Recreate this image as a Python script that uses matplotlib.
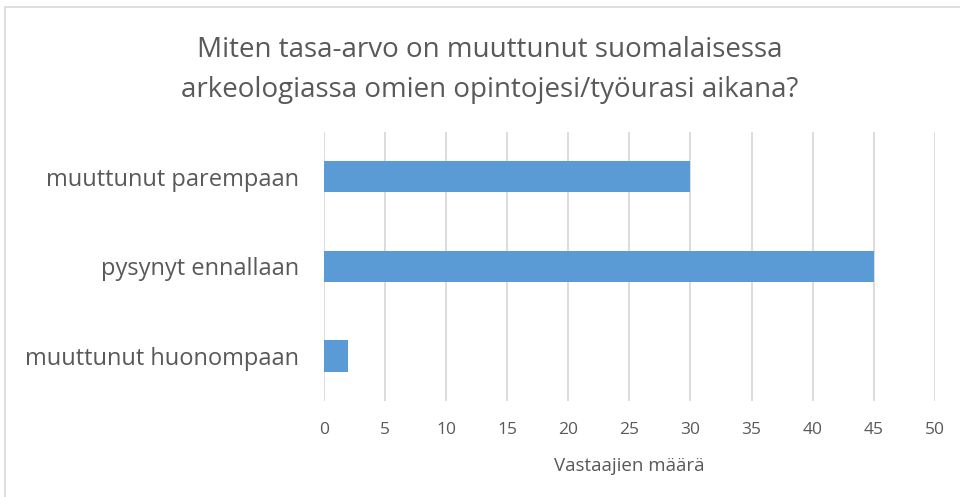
import matplotlib.pyplot as plt
from matplotlib.patches import Rectangle

# data
categories = ["muuttunut huonompaan", "pysynyt ennallaan", "muuttunut parempaan"]
values = [2, 45, 30]
x_ticks = [0, 5, 10, 15, 20, 25, 30, 35, 40, 45, 50]

title = "Miten tasa-arvo on muuttunut suomalaisessa\narkeologiassa omien opintojesi/työurasi aikana?"
x_label = "Vastaajien määrä"

bar_color = "#5B9BD5"
text_color = "#595959"
grid_color = "#D9D9D9"

plt.rcParams["font.family"] = ["Open Sans", "DejaVu Sans"]

fig = plt.figure(figsize=(9.6, 4.97), dpi=100)
ax = fig.add_axes([323.7 / 960, 1 - 400.7 / 497, (935 - 323.7) / 960, (400.7 - 131.7) / 497])

ax.barh(categories, values, height=0.35, color=bar_color, zorder=3)

ax.set_xlim(0, 50)
ax.set_ylim(-0.5, 2.5)
ax.set_xticks(x_ticks)
ax.tick_params(axis="x", length=0, colors=text_color, labelsize=12.5, pad=15)
ax.tick_params(axis="y", length=0, colors=text_color, labelsize=17, pad=18)
ax.grid(axis="x", color=grid_color, linewidth=1.3, zorder=0)
for s in ax.spines.values():
    s.set_visible(False)

ax.set_xlabel(x_label, color=text_color, fontsize=13.5, labelpad=14)

fig.text(0.51, 1 - 70 / 497, title, ha="center", va="center", fontsize=20,
         color=text_color, linespacing=1.6)

# chart border
fig.patches.append(Rectangle((5 / 960, -0.1), 1.2, 1 - 7 / 497 + 0.1,
                             transform=fig.transFigure, fill=False,
                             edgecolor=grid_color, linewidth=1.2))

fig.savefig("out.png", dpi=100)
